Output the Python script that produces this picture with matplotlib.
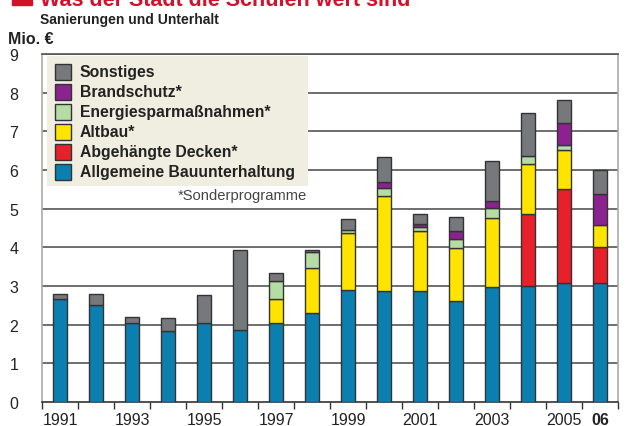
import matplotlib.pyplot as plt
from matplotlib.patches import Rectangle
import numpy as np

plt.rcParams['font.family'] = ['Liberation Sans', 'DejaVu Sans']

# Daten (Mio. Euro)
jahre = list(range(1991, 2007))
allgemein = [2.66, 2.51, 2.04, 1.84, 2.04, 1.87, 2.04, 2.30, 2.90, 2.87, 2.87, 2.60, 2.98, 3.01, 3.08, 3.08]
decken = [0, 0, 0, 0, 0, 0, 0, 0, 0, 0, 0, 0, 0, 1.84, 2.42, 0.92]
altbau = [0, 0, 0, 0, 0, 0, 0.62, 1.16, 1.47, 2.46, 1.55, 1.37, 1.79, 1.31, 1.02, 0.57]
energie = [0, 0, 0, 0, 0, 0, 0.46, 0.41, 0.07, 0.21, 0.11, 0.24, 0.25, 0.19, 0.13, 0]
brand = [0, 0, 0, 0, 0, 0, 0, 0, 0, 0.15, 0.07, 0.22, 0.18, 0, 0.56, 0.82]
sonstiges = [0.14, 0.29, 0.15, 0.32, 0.72, 2.07, 0.21, 0.07, 0.30, 0.65, 0.25, 0.36, 1.04, 1.12, 0.59, 0.60]

serien = [
    ('Allgemeine Bauunterhaltung', allgemein, '#0a7fb0'),
    ('Abgehängte Decken*', decken, '#e8202a'),
    ('Altbau*', altbau, '#ffe400'),
    ('Energiesparmaßnahmen*', energie, '#b6dca6'),
    ('Brandschutz*', brand, '#8b2290'),
    ('Sonstiges', sonstiges, '#77787b'),
]

xtick_jahre = [1991, 1993, 1995, 1997, 1999, 2001, 2003, 2005, 2006]
xtick_labels = ['1991', '1993', '1995', '1997', '1999', '2001', '2003', '2005', '06']

fig = plt.figure(figsize=(6.4, 4.27), dpi=100)
fig.patch.set_facecolor('white')
W, H = 640, 427

ax = fig.add_axes([42 / W, 1 - 403 / H, 576 / W, 348 / H])
x = np.arange(len(jahre))
unten = np.zeros(len(jahre))
for name, werte, farbe in serien:
    werte = np.array(werte)
    m = werte > 0
    ax.bar(x[m], werte[m], bottom=unten[m], width=0.41, color=farbe,
           edgecolor='#333333', linewidth=1.0, zorder=3)
    unten += werte

ax.set_xlim(-0.5, len(jahre) - 0.5)
ax.set_ylim(0, 9)
ax.set_yticks(range(0, 10))
ax.set_yticklabels([str(i) for i in range(10)], fontsize=11.5, color='#222222')
ax.tick_params(axis='y', length=0, pad=17)
for yv in range(1, 10):
    ax.axhline(yv, color='#555555', lw=1.2, zorder=1)

ax.set_xticks(np.arange(-0.5, len(jahre), 1.0))
ax.set_xticklabels([])
ax.tick_params(axis='x', which='major', length=5, width=1.0, color='#333333', direction='out')
ax.set_xticks([jahre.index(j) for j in xtick_jahre], minor=True)
ax.set_xticklabels(xtick_labels, minor=True, fontsize=11.5, color='#222222')
ax.tick_params(axis='x', which='minor', length=0, pad=7)
ax.get_xticklabels(minor=True)[-1].set_fontweight('bold')

for s in ['left', 'right']:
    ax.spines[s].set_color('#aaaaaa')
    ax.spines[s].set_linewidth(1.2)
ax.spines['top'].set_color('#555555')
ax.spines['top'].set_linewidth(1.2)
ax.spines['bottom'].set_color('#333333')
ax.spines['bottom'].set_linewidth(1.2)

# Titel
fig.add_artist(Rectangle((12 / W, 1 - 6 / H), 20 / W, 20 / H, transform=fig.transFigure,
                         color='#d3112b', clip_on=False))
fig.text(40 / W, 1 - 6.5 / H, 'Was der Stadt die Schulen wert sind', fontsize=15.5,
         fontweight='bold', color='#d3112b', va='baseline', ha='left')
fig.text(40 / W, 1 - 24 / H, 'Sanierungen und Unterhalt', fontsize=10,
         fontweight='bold', color='#222222', va='baseline', ha='left')
fig.text(8 / W, 1 - 44 / H, 'Mio. €', fontsize=11.5, fontweight='bold',
         color='#222222', va='baseline', ha='left')

# Legende
fig.add_artist(Rectangle((47 / W, 1 - 187 / H), 261 / W, 130 / H, transform=fig.transFigure,
                         facecolor='#efeee0', edgecolor='none', zorder=5))
for i, (name, werte, farbe) in enumerate(serien[::-1]):
    yc = 72.5 + 20 * i
    fig.add_artist(Rectangle((55 / W, 1 - (yc + 8) / H), 16 / W, 16 / H,
                             transform=fig.transFigure, facecolor=farbe,
                             edgecolor='#333333', linewidth=1.0, zorder=6))
    fig.text(80 / W, 1 - yc / H, name, fontsize=11.3, fontweight='bold',
             color='#222222', va='center', ha='left', zorder=7)
fig.text(307 / W, 1 - 196 / H, '*Sonderprogramme', fontsize=10.6,
         color='#444444', va='center', ha='right')

fig.savefig('out.png', dpi=100)
